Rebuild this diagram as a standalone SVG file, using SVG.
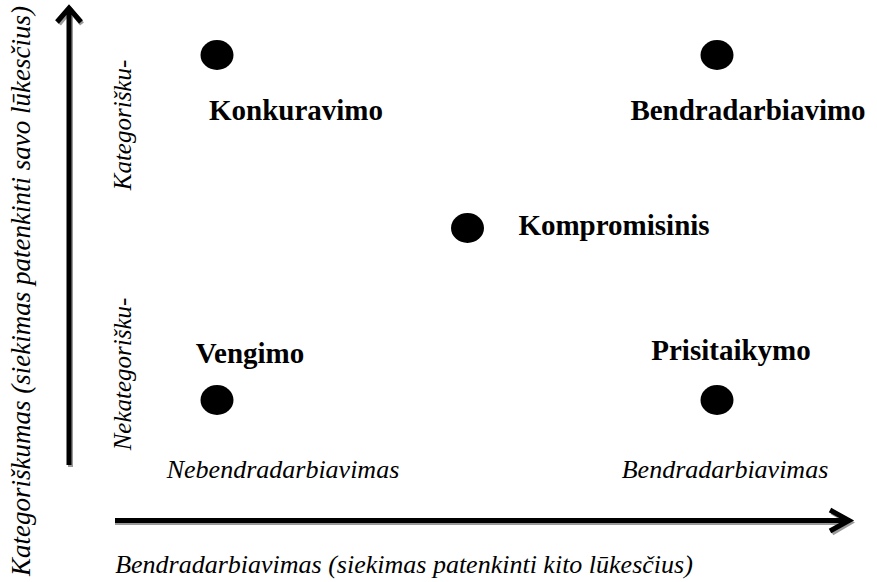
<svg xmlns="http://www.w3.org/2000/svg" width="877" height="582" viewBox="0 0 877 582">
<defs>
<marker id="unused" markerWidth="1" markerHeight="1"/>
</defs>
<rect width="877" height="582" fill="#fff"/>
<g id="connectors" fill="none" stroke-linejoin="miter">
  <g id="axis-y">
    <path stroke="#9a9a9a" stroke-width="5" d="M70.5 467 V9 M59 24 L70.5 10 L82 24"/>
    <path stroke="#000" stroke-width="5" d="M69 465 V7 M57 22 L69 8 L81 22"/>
  </g>
  <g id="axis-x">
    <path stroke="#9a9a9a" stroke-width="5" d="M115 522.5 H850 M832 512 L850 522.5 L832 533"/>
    <path stroke="#000" stroke-width="5" d="M115 520.5 H849 M830 510 L849 520.5 L830 531"/>
  </g>
</g>
<g id="axis-labels" font-family="Liberation Serif" font-style="italic" font-size="26" fill="#000">
  <text transform="translate(30,291) rotate(-90)" text-anchor="middle" font-size="27">Kategoriškumas (siekimas patenkinti savo lūkesčius)</text>
  <text transform="translate(131,125) rotate(-90)" text-anchor="middle" font-size="25">Kategorišku-</text>
  <text transform="translate(131,374) rotate(-90)" text-anchor="middle" font-size="25">Nekategorišku-</text>
  <text x="283" y="478" text-anchor="middle">Nebendradarbiavimas</text>
  <text x="725" y="478" text-anchor="middle">Bendradarbiavimas</text>
  <text x="404" y="573" text-anchor="middle">Bendradarbiavimas (siekimas patenkinti kito lūkesčius)</text>
</g>
<g id="nodes" font-family="Liberation Serif" font-weight="bold" font-size="29" fill="#000" text-anchor="middle">
<g id="node-konkuravimo">
  <ellipse cx="217" cy="55" rx="16.5" ry="15"/>
  <text x="296" y="120">Konkuravimo</text>
</g>
<g id="node-bendradarbiavimo">
  <ellipse cx="717" cy="55" rx="16.5" ry="15"/>
  <text x="748" y="120">Bendradarbiavimo</text>
</g>
<g id="node-kompromisinis">
  <ellipse cx="467.5" cy="228" rx="16.5" ry="15"/>
  <text x="614" y="235">Kompromisinis</text>
</g>
<g id="node-vengimo">
  <ellipse cx="217" cy="400" rx="16.5" ry="15"/>
  <text x="250" y="363">Vengimo</text>
</g>
<g id="node-prisitaikymo">
  <ellipse cx="717" cy="400" rx="16.5" ry="15"/>
  <text x="731" y="360">Prisitaikymo</text>
</g>
</g>
</svg>
